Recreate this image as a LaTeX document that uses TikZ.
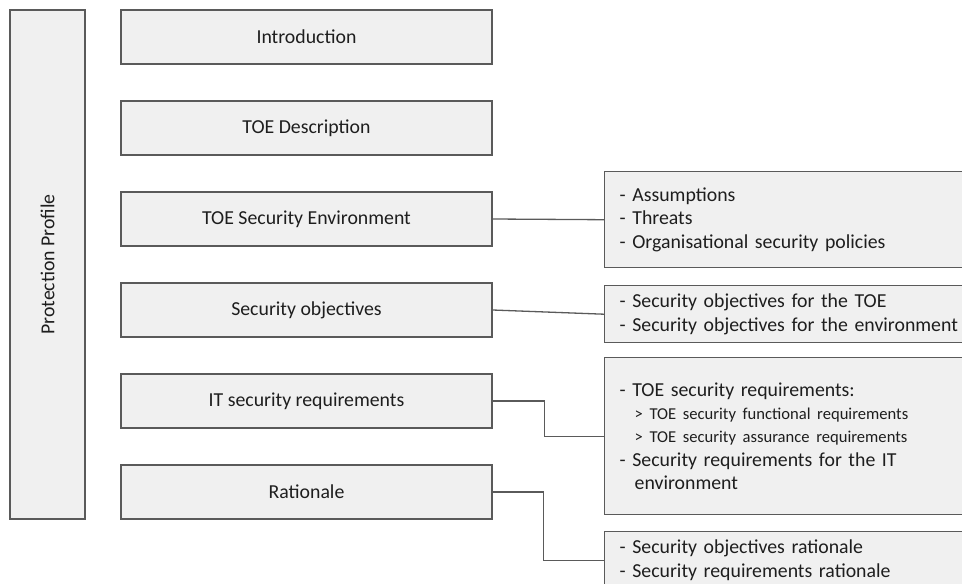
\documentclass[tikz,border=0pt]{standalone}
\usepackage{fontspec}
\setmainfont{Carlito}
\definecolor{boxfill}{HTML}{F0F0F0}
\definecolor{boxline}{HTML}{5A5A5A}
\definecolor{ink}{HTML}{1E1E1E}
\begin{document}
\begin{tikzpicture}[x=1pt,y=-1pt,
  every node/.style={text=ink},
  frame/.style={draw=boxline,fill=boxfill,line width=1.4pt,inner sep=0pt},
  section/.style={frame,minimum width=371pt,minimum height=54pt,
    font=\fontsize{19.8}{23.3}\selectfont},
  detail/.style={frame,anchor=north west,minimum width=400pt,
    text width=370pt,align=left,inner xsep=15pt,
    font=\fontsize{19.8}{23.3}\selectfont},
  link/.style={draw=boxline,line width=1.3pt}]
\useasboundingbox (0,0) rectangle (962,584);

% document frame on the left
\node[frame,minimum width=75pt,minimum height=509pt] (pp) at (47.5,264.5)
  {\rotatebox{90}{\fontsize{19.8}{23.3}\selectfont Protection Profile}};

% sections of the profile
\node[section] (intro) at (306.5,37)  {Introduction};
\node[section] (desc)  at (306.5,128) {TOE Description};
\node[section] (tse)   at (306.5,219) {TOE Security Environment};
\node[section] (so)    at (306.5,310) {Security objectives};
\node[section] (itr)   at (306.5,401) {IT security requirements};
\node[section] (rat)   at (306.5,492) {Rationale};

% contents of the sections
\node[detail,minimum height=96pt] (env) at (604,171)
  {- Assumptions\\- Threats\\- Organisational security policies};
\node[detail,minimum height=57pt] (obj) at (604,285)
  {- Security objectives for the TOE\\- Security objectives for the environment};
\node[detail,minimum height=157pt] (req) at (604,357)
  {- TOE security requirements:\\
   \hspace*{15pt}{\fontsize{16.6}{23.3}\selectfont > TOE security functional requirements}\\
   \hspace*{15pt}{\fontsize{16.6}{23.3}\selectfont > TOE security assurance requirements}\\
   - Security requirements for the IT\\
   \hspace*{15pt}environment};
\node[detail,minimum height=57pt] (rr) at (604,531)
  {- Security objectives rationale\\- Security requirements rationale};

% connectors
\draw[link] (tse.east) -- (env.west);
\draw[link] (so.east) -- (obj.west);
\draw[link] (itr.east) -- ++(52,0) |- (req.west);
\draw[link] (rat.east) -- ++(51,0) |- (rr.west);
\end{tikzpicture}
\end{document}
